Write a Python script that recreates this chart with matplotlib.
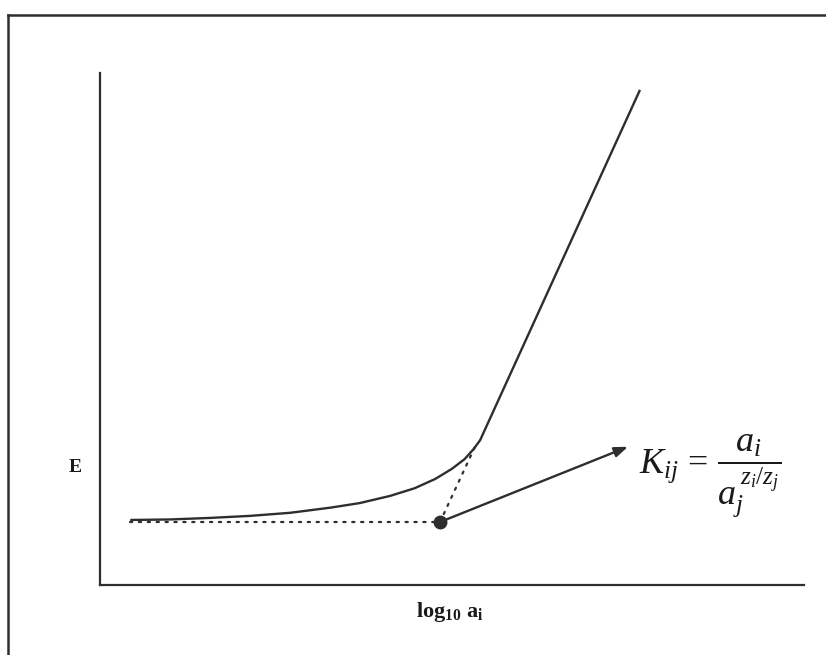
import matplotlib
matplotlib.use("Agg")
import matplotlib.pyplot as plt
from matplotlib.lines import Line2D

plt.rcParams['mathtext.fontset'] = 'custom'
plt.rcParams['mathtext.rm'] = 'Liberation Serif'
plt.rcParams['mathtext.it'] = 'Liberation Serif:italic'
plt.rcParams['mathtext.bf'] = 'Liberation Serif:bold'

# Data (arbitrary units)
curve_x = [0.43, 0.99, 1.56, 2.13, 2.70, 3.27, 3.69, 4.12, 4.47, 4.76, 5.00, 5.18, 5.31, 5.40, 7.67]
curve_y = [1.27, 1.28, 1.31, 1.35, 1.41, 1.51, 1.60, 1.74, 1.89, 2.07, 2.27, 2.46, 2.66, 2.83, 9.67]
base_x = [0.43, 4.83]
base_y = [1.23, 1.23]
point_x, point_y = 4.83, 1.23
knee_x, knee_y = 5.36, 2.80
arrow_end_x, arrow_end_y = 7.50, 2.70

col = '#2e2e2e'
fig = plt.figure(figsize=(8.26, 6.55), dpi=100)
ax = fig.add_axes([100/826, 1-585/655, 704/826, 512/655])
ax.set_xlim(0, 10)
ax.set_ylim(0, 10)
for s in ['top', 'right']:
    ax.spines[s].set_visible(False)
for s in ['left', 'bottom']:
    ax.spines[s].set_color(col)
    ax.spines[s].set_linewidth(1.6)
ax.set_xticks([])
ax.set_yticks([])

ax.plot(curve_x, curve_y, color=col, lw=1.7, solid_capstyle='butt', solid_joinstyle='round')
ax.plot(base_x, base_y, color=col, lw=1.6, linestyle=(0, (1, 3)), dash_capstyle='round')
ax.plot([point_x, knee_x], [point_y, knee_y], color=col, lw=1.6, linestyle=(0, (1, 3)), dash_capstyle='round')
ax.plot([point_x], [point_y], 'o', color=col, markersize=9)
ax.annotate('', xy=(arrow_end_x, arrow_end_y), xytext=(point_x, point_y),
            arrowprops=dict(arrowstyle='-|>,head_length=0.8,head_width=0.3', color=col, lw=1.7,
                            shrinkA=5, shrinkB=0))

ax.text(7.66, 2.12, r'$K_{ij}\, =\, \dfrac{a_i}{a_j^{\,z_i/z_j}}$', fontsize=26, color='#1a1a1a',
        ha='left', va='center')

fig.text(75/826, 1-468/655, 'E', fontsize=14, fontweight='bold', family='Liberation Serif',
         ha='center', va='center', color='#1a1a1a')
fig.text(450/826, 1-612/655, r'$\mathbf{log_{10}\ a_i}$', fontsize=16,
         ha='center', va='center', color='#1a1a1a')

# scanned frame
fig.add_artist(Line2D([8/826, 1.0], [1-15/655, 1-15/655], transform=fig.transFigure, color=col, lw=1.8))
fig.add_artist(Line2D([8/826, 8/826], [1-15/655, 0.0], transform=fig.transFigure, color=col, lw=1.8))

fig.savefig('out.png', dpi=100)
